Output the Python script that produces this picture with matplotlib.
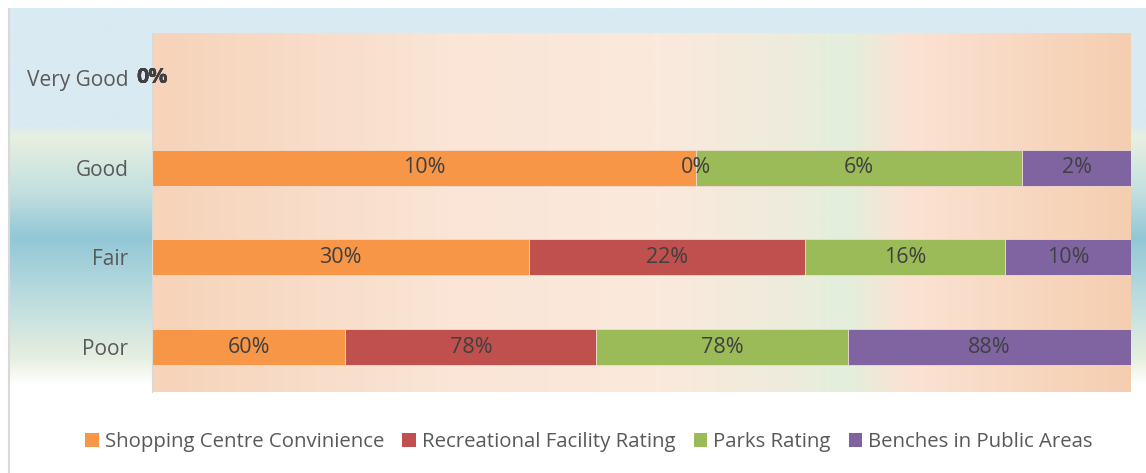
import matplotlib
matplotlib.use("Agg")
import matplotlib.pyplot as plt
import numpy as np
from matplotlib.colors import LinearSegmentedColormap
from matplotlib.patches import Patch

plt.rcParams['font.family'] = ['Open Sans', 'DejaVu Sans']

categories = ['Very Good', 'Good', 'Fair', 'Poor']
series = ['Shopping Centre Convinience', 'Recreational Facility Rating',
          'Parks Rating', 'Benches in Public Areas']
shopping = [0, 10, 30, 60]
recreation = [0, 0, 22, 78]
parks = [0, 6, 16, 78]
benches = [0, 2, 10, 88]
colors = ['#f79646', '#c0504d', '#9bbb59', '#8064a2']

W, H = 1146, 473
fig = plt.figure(figsize=(W / 100, H / 100), dpi=100)

# background panel with vertical gradient
bg = fig.add_axes([0, 0, 1, 1])
bg.set_xlim(0, W)
bg.set_ylim(H, 0)
bg.axis('off')
vcmap = LinearSegmentedColormap.from_list('v', [
    (0.0, '#d9eaf2'), (0.31, '#d9eaf2'), (0.34, '#e8f0e2'), (0.49, '#c2dfdf'),
    (0.61, '#92c7d6'), (0.77, '#bcdcdf'), (0.93, '#e6efdf'), (1.0, '#ffffff')])
grad = np.linspace(0, 1, 256).reshape(-1, 1)
bg.imshow(grad, cmap=vcmap, extent=[8, W, 385, 9], aspect='auto', zorder=0)
bg.plot([8.5, 8.5], [9, H], color='#d9d9d9', lw=1.5, zorder=1)

ax = fig.add_axes([152 / W, (H - 392) / H, 979 / W, (392 - 33) / H])
ax.set_facecolor('none')
hcmap = LinearSegmentedColormap.from_list('h', [
    (0.0, '#f6d3b9'), (0.30, '#fae5d6'), (0.51, '#fbe9dc'), (0.65, '#eeecdc'),
    (0.71, '#e3efdc'), (0.77, '#fbe3d4'), (1.0, '#f5ceb0')])
hgrad = np.linspace(0, 1, 512).reshape(1, -1)
ax.imshow(hgrad, cmap=hcmap, extent=[0, 1, 0, 1], transform=ax.transAxes,
          aspect='auto', zorder=0)

data = np.array([shopping, recreation, parks, benches], dtype=float)
totals = data.sum(axis=0)
pct = np.where(totals > 0, data / np.where(totals > 0, totals, 1) * 100, 0)
y = np.arange(len(categories))
left = np.zeros(len(categories))
for i, name in enumerate(series):
    ax.barh(y, pct[i], left=left, height=0.4, color=colors[i],
            edgecolor='#f2dcd0', linewidth=0.6, label=name, zorder=2)
    for j in range(len(categories)):
        cx = left[j] + pct[i][j] / 2
        ax.text(cx, y[j], f"{int(data[i][j])}%", ha='center', va='center',
                fontsize=15.5, color='#404040', zorder=3,
                fontweight='bold' if totals[j] == 0 else 'normal')
    left += pct[i]

ax.set_xlim(0, 100)
ax.set_ylim(3.5, -0.5)
ax.set_yticks(y)
ax.set_yticklabels(categories, fontsize=15, color='#595959')
ax.set_xticks([])
ax.tick_params(axis='y', length=0, pad=17)
for s in ['top', 'right', 'bottom']:
    ax.spines[s].set_visible(False)
ax.spines['left'].set_color('#d9d9d9')

handles = [Patch(facecolor=c, label=n) for c, n in zip(colors, series)]
leg = fig.legend(handles=handles, loc='center', bbox_to_anchor=(0.514, (H - 442) / H),
                 ncol=4, frameon=False, fontsize=14.7, handlelength=0.65,
                 handleheight=0.65, handletextpad=0.3, columnspacing=0.9)
for t in leg.get_texts():
    t.set_color('#595959')

fig.savefig('out.png', dpi=100)
